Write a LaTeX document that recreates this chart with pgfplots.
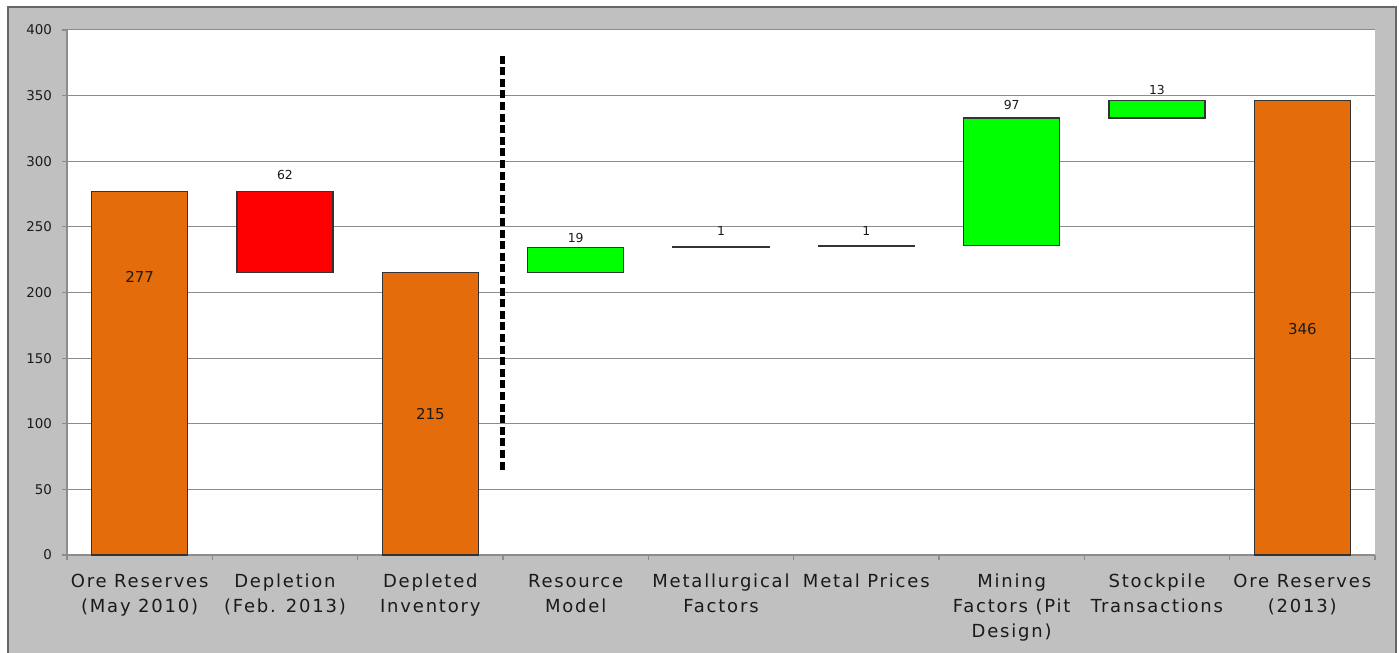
\documentclass[border=0pt]{standalone}
\usepackage{pgfplots}
\pgfplotsset{compat=1.18}
\usepackage{fontspec}
\setmainfont{DejaVu Sans}
\newfontfamily\labfont{DejaVu Sans}[LetterSpace=10]
\definecolor{bg}{HTML}{C0C0C0}
\definecolor{oreorange}{HTML}{E46C0A}
\definecolor{gridgray}{HTML}{8C8C8C}
\definecolor{edge}{HTML}{333333}
\definecolor{txt}{HTML}{1A1A1A}
\begin{document}
\begin{tikzpicture}[x=1pt,y=1pt]
\path[use as bounding box] (-33.5,-49) rectangle (666,277.5);
\fill[bg] (-29.5,-49) rectangle (664.5,274);
\draw[black!60, line width=0.7pt] (-29.5,-49) -- (-29.5,274) -- (664.5,274) -- (664.5,-49);
\begin{axis}[
  at={(0,0)}, anchor=south west,
  scale only axis, width=654pt, height=262.5pt,
  xmin=-0.5, xmax=8.5, ymin=0, ymax=400,
  stack plots=y,
  wf/.style={ybar, bar shift=0pt, bar width=0.66, line width=0.6pt},
  axis background/.style={fill=white},
  axis lines=left, axis line style={-, gridgray, line width=0.6pt},
  ymajorgrids, grid style={gridgray, line width=0.5pt},
  ytick={0,50,...,400},
  xtick={0,...,8},
  minor xtick={-0.5,0.5,...,8.5},
  major x tick style={draw=none},
  minor x tick style={gridgray, line width=0.6pt},
  y tick style={gridgray, line width=0.6pt},
  tick align=outside,
  major tick length=2.5pt, minor tick length=2.5pt,
  xticklabels={{Ore Reserves\\(May 2010)},{Depletion\\(Feb. 2013)},{Depleted\\Inventory},{Resource\\Model},{Metallurgical\\Factors},{Metal Prices},{Mining\\Factors (Pit\\Design)},{Stockpile\\Transactions},{Ore Reserves\\(2013)}},
  xticklabel style={align=center, font=\labfont\fontsize{9}{12.5}\selectfont, text=txt, anchor=north, yshift=-3.5pt},
  yticklabel style={font=\fontsize{6.7}{7}\selectfont, text=txt, xshift=-1.5pt},
  /pgf/number format/assume math mode=true,
  clip=false,
]
% invisible base
\addplot[wf, draw=none, fill=none] coordinates {(0,0) (1,215) (2,0) (3,215) (4,234) (5,235) (6,236) (7,333) (8,0)};
% orange totals
\addplot[wf, fill=oreorange, draw=edge] coordinates {(0,277) (1,0) (2,215) (3,0) (4,0) (5,0) (6,0) (7,0) (8,346)};
% red decrease
\addplot[wf, fill=red, draw=edge] coordinates {(0,0) (1,62) (2,0) (3,0) (4,0) (5,0) (6,0) (7,0) (8,0)};
% green increases
\addplot[wf, fill=green, draw=edge] coordinates {(0,0) (1,0) (2,0) (3,19) (4,0) (5,0) (6,97) (7,13) (8,0)};
% tiny increases
\addplot[wf, fill=black, draw=edge] coordinates {(0,0) (1,0) (2,0) (3,0) (4,1) (5,1) (6,0) (7,0) (8,0)};
% dashed separator
\addplot[stack plots=false, forget plot, black, line width=2.5pt, dash pattern=on 4pt off 1.8pt] coordinates {(2.5,65) (2.5,381)};
% labels inside totals
\addplot[stack plots=false, forget plot, draw=none, nodes near coords, point meta=explicit symbolic,
  every node near coord/.style={anchor=center, font=\fontsize{7.5}{8}\selectfont, text=txt}]
  coordinates {(0,211.8) [277] (2,107.4) [215] (8,172.2) [346]};
% labels above changes
\addplot[stack plots=false, forget plot, draw=none, nodes near coords, point meta=explicit symbolic,
  every node near coord/.style={anchor=center, font=\fontsize{6.2}{6.5}\selectfont, text=txt}]
  coordinates {(1,289.5) [62] (3,241.5) [19] (4,247) [1] (5,247) [1] (6,343) [97] (7,354.3) [13]};
\end{axis}
\end{tikzpicture}
\end{document}
